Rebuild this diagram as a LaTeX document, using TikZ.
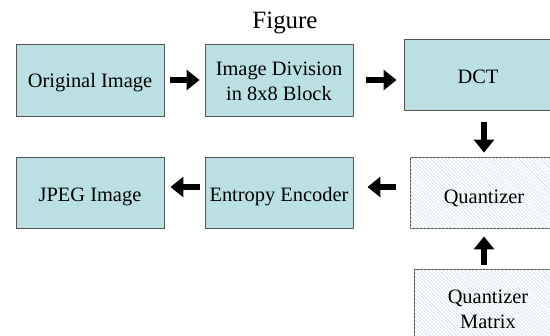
\documentclass[tikz,border=0pt]{standalone}
\usepackage{fontspec}
\setmainfont{Liberation Serif}
\usetikzlibrary{arrows.meta,patterns.meta,calc}
\definecolor{boxfill}{HTML}{BAE0E4}
\definecolor{boxline}{HTML}{555555}
\definecolor{hatch}{HTML}{C4DCE4}
\tikzset{
  blk/.style={draw=boxline, line width=0.9bp, fill=boxfill, minimum width=148bp, minimum height=71bp,
    inner sep=0pt, align=center, font=\fontsize{20.5}{24.5}\selectfont, text=black,
    text depth=0bp, text height=18.4bp},
  hatched/.style={blk, fill=white, postaction={pattern={Lines[angle=-45,distance=2.6bp,line width=0.45bp]}, pattern color=hatch}},
  barrow/.style={line width=6.5bp, -{Triangle[length=13bp,width=20bp]}, black}
}
\begin{document}
\begin{tikzpicture}[x=1bp,y=-1bp]
\useasboundingbox (0,0) rectangle (550,335);
\clip (0,0) rectangle (550,335);
\node[anchor=base, font=\fontsize{25}{28}\selectfont] (title) at (285,28) {Figure};
\node[blk, minimum height=72bp, text height=15.5bp] (orig) at (90,80) {Original Image};
\node[blk, minimum height=72bp, text height=40bp] (div) at (279,80) {Image Division\\in 8x8 Block};
\node[blk, text height=17.6bp] (dct) at (478,74.5) {DCT};
\node[hatched, text height=21bp] (quant) at (484,192.5) {Quantizer};
\node[hatched, text height=47.5bp] (qm) at (488,304.5) {Quantizer\\Matrix};
\node[blk] (jpeg) at (90,192.5) {JPEG Image};
\node[blk] (ent) at (279,192.5) {Entropy Encoder};
\draw[barrow, shorten <=6bp, shorten >=5bp] (orig.east) -- (div.west);
\draw[barrow, shorten <=13bp, shorten >=7bp] (div.east) -- (div.east -| dct.west);
\draw[barrow, shorten <=12bp, shorten >=4bp] (quant.north |- dct.south) -- (quant.north);
\draw[barrow, shorten <=4bp, shorten >=8bp] (qm.north -| quant.south) -- (quant.south);
\coordinate (q2) at ([yshift=5.5bp]quant.west);
\coordinate (e2) at ([yshift=5.5bp]ent.west);
\draw[barrow, shorten <=14bp, shorten >=14bp] (q2) -- (q2 -| ent.east);
\draw[barrow, shorten <=5bp, shorten >=6bp] (e2) -- (e2 -| jpeg.east);
\end{tikzpicture}
\end{document}
